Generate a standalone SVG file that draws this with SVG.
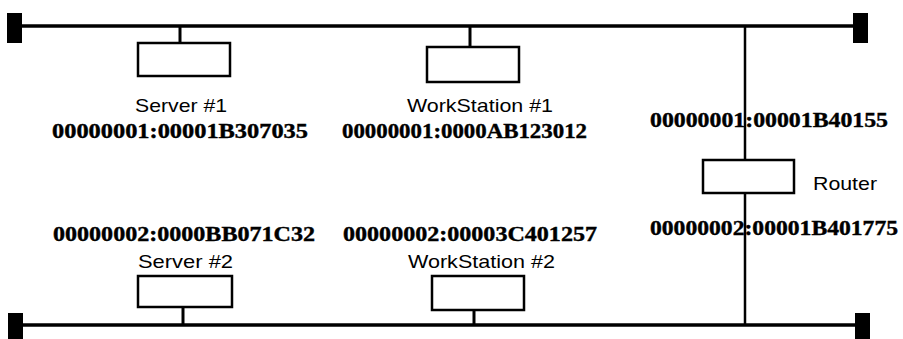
<svg xmlns="http://www.w3.org/2000/svg" width="903" height="339" viewBox="0 0 903 339">
<style>
.bus{stroke:#000;stroke-width:3.5;fill:none}
.stub{stroke:#000;stroke-width:3;fill:none}
.rline{stroke:#000;stroke-width:2.5;fill:none}
.term{fill:#000}
.box{fill:#fff;stroke:#000;stroke-width:2.5}
.lbl{font-family:"Liberation Sans",Arial,sans-serif;font-size:19px;fill:#000}
.addr{font-family:"Liberation Serif","Times New Roman",serif;font-weight:bold;font-size:20px;fill:#000;stroke:#000;stroke-width:0.4}
</style>
<rect width="903" height="339" fill="#fff"/>
<g id="connectors">
<line class="bus" x1="15" y1="26" x2="860" y2="26"/>
<line class="bus" x1="15" y1="325" x2="862" y2="325"/>
<line class="stub" x1="180" y1="26" x2="180" y2="43"/>
<line class="stub" x1="470" y1="26" x2="470" y2="47"/>
<line class="stub" x1="183" y1="307" x2="183" y2="325"/>
<line class="stub" x1="474" y1="310" x2="474" y2="325"/>
<line class="rline" x1="745" y1="26" x2="745" y2="325"/>
<rect class="term" x="7" y="13" width="15" height="30"/>
<rect class="term" x="853" y="13" width="15" height="30"/>
<rect class="term" x="8" y="313" width="15" height="26"/>
<rect class="term" x="855" y="313" width="15" height="26"/>
</g>
<g id="server1">
<rect class="box" x="138" y="43" width="92" height="33"/>
<text class="lbl" x="135" y="112" textLength="92" lengthAdjust="spacingAndGlyphs">Server #1</text>
<text class="addr" x="52" y="138" textLength="256" lengthAdjust="spacingAndGlyphs">00000001:00001B307035</text>
</g>
<g id="workstation1">
<rect class="box" x="427" y="47" width="92" height="35"/>
<text class="lbl" x="407" y="112" textLength="146" lengthAdjust="spacingAndGlyphs">WorkStation #1</text>
<text class="addr" x="342" y="138" textLength="245" lengthAdjust="spacingAndGlyphs">00000001:0000AB123012</text>
</g>
<g id="router">
<text class="addr" x="650" y="127" textLength="238" lengthAdjust="spacingAndGlyphs">00000001:00001B40155</text>
<rect class="box" x="703" y="160" width="91" height="33"/>
<text class="lbl" x="813" y="190" textLength="64" lengthAdjust="spacingAndGlyphs">Router</text>
<text class="addr" x="650" y="235" textLength="248" lengthAdjust="spacingAndGlyphs">00000002:00001B401775</text>
</g>
<g id="server2">
<text class="addr" x="53" y="241" textLength="262" lengthAdjust="spacingAndGlyphs">00000002:0000BB071C32</text>
<text class="lbl" x="138" y="268" textLength="95" lengthAdjust="spacingAndGlyphs">Server #2</text>
<rect class="box" x="138" y="276" width="94" height="31"/>
</g>
<g id="workstation2">
<text class="addr" x="343" y="241" textLength="254" lengthAdjust="spacingAndGlyphs">00000002:00003C401257</text>
<text class="lbl" x="408" y="268" textLength="147" lengthAdjust="spacingAndGlyphs">WorkStation #2</text>
<rect class="box" x="432" y="276" width="92" height="34"/>
</g>
</svg>
